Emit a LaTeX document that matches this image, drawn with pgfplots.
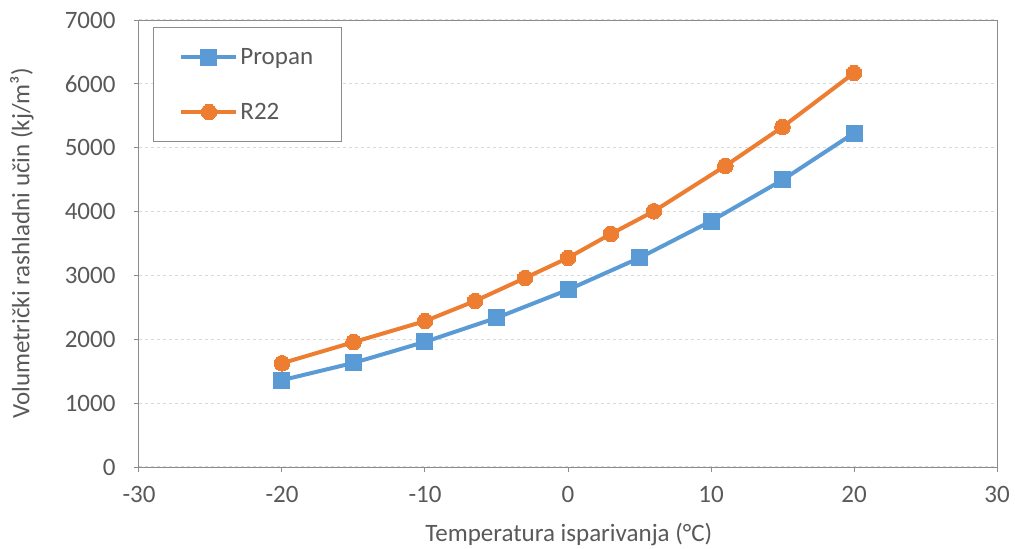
\documentclass[border=0pt]{standalone}
\usepackage{pgfplots}
\pgfplotsset{compat=1.18}
\usepackage{fontspec}
\setmainfont{Carlito}
\definecolor{cblue}{HTML}{5B9BD5}
\definecolor{corange}{HTML}{ED7D31}
\definecolor{ctext}{HTML}{595959}
\definecolor{cgrid}{HTML}{D9D9D9}
\definecolor{cframe}{HTML}{8C8C8C}
\begin{document}
\begin{tikzpicture}
\path[use as bounding box] (-139pt,-82pt) rectangle (876pt,467pt);
\begin{axis}[
  scale only axis,
  width=858pt, height=447pt,
  at={(0pt,0pt)}, anchor=south west,
  xmin=-30, xmax=30, ymin=0, ymax=7000,
  xtick={-30,-20,...,30},
  ytick={0,1000,...,7000},
  ymajorgrids,
  grid style={cgrid, dashed, line width=1.2pt},
  axis line style={cframe, line width=1pt},
  tick style={cframe, line width=1pt},
  tick align=outside,
  major tick length=5pt,
  xtick pos=bottom, ytick pos=left,
  /pgf/number format/assume math mode=true,
  /pgf/number format/1000 sep={},
  /pgf/number format/fixed,
  tick label style={font=\fontsize{25}{28}\selectfont, text=ctext},
  xticklabel style={yshift=-11pt},
  yticklabel style={xshift=-15pt},
  label style={font=\fontsize{25}{28}\selectfont, text=ctext},
  xlabel={Temperatura isparivanja (°C)},
  ylabel={Volumetrički rashladni učin (kj/m³)},
  xlabel style={at={(axis description cs:0.501,-0.152)}, anchor=center},
  ylabel style={at={(axis description cs:-0.1364,0.5)}, anchor=center},
  legend style={at={(rel axis cs:0.0163,0.984)}, anchor=north west,
    draw=cframe, line width=1pt, font=\fontsize{25}{28}\selectfont, text=ctext,
    inner xsep=26pt, inner ysep=19pt, row sep=33pt},
  legend cell align=left,
  legend image code/.code={\draw[mark repeat=2,mark phase=2,#1] plot coordinates {(0pt,0pt) (27.5pt,0pt) (55pt,0pt)};},
]
\addplot[cblue, line width=4pt, mark=square*, mark size=8pt, mark options={solid, line width=0pt, draw=cblue, fill=cblue}] coordinates {
(-20,1360) (-15,1630) (-10,1960) (-5,2335) (0,2775) (5,3275) (10,3850) (15,4495) (20,5230)
};
\addlegendentry{Propan}
\addplot[corange, line width=4pt, mark=*, mark size=7.8pt, mark options={solid, line width=0pt, draw=corange, fill=corange}] coordinates {
(-20,1625) (-15,1955) (-10,2285) (-6.5,2600) (-3,2960) (0,3275) (3,3650) (6,4005) (11,4715) (15,5325) (20,6170)
};
\addlegendentry{R22}
\end{axis}
\end{tikzpicture}
\end{document}
